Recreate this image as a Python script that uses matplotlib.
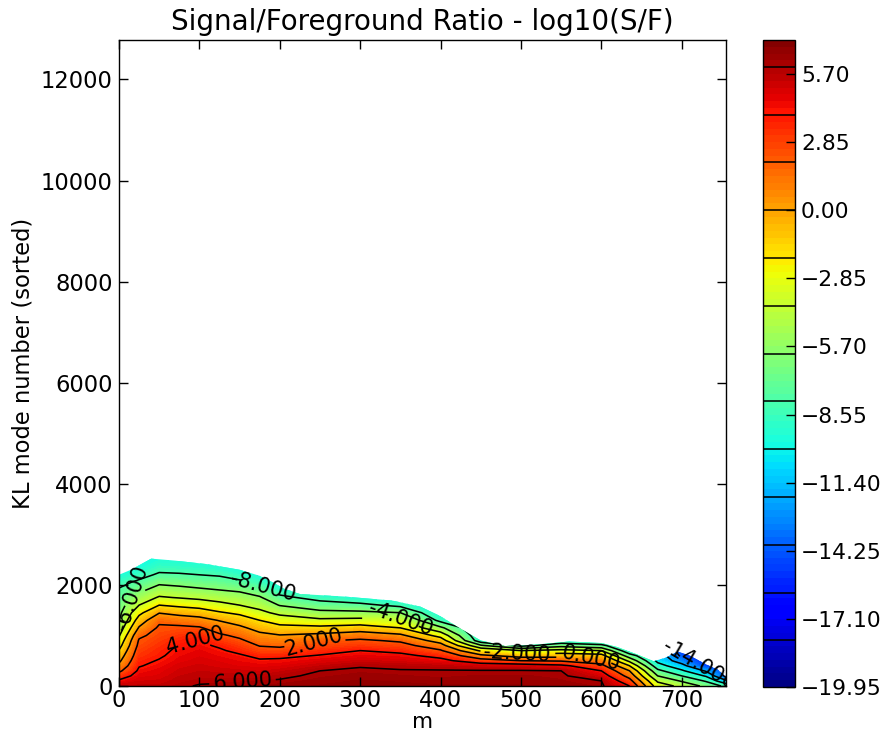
import numpy as np
import matplotlib
matplotlib.use('Agg')
import matplotlib.pyplot as plt
from matplotlib.patches import Polygon
from matplotlib.ticker import FuncFormatter

nan = float('nan')

# m values (columns) and KL mode numbers (rows) of the sampled grid
m_cols = [0, 25, 50, 75, 100, 125, 150, 175, 200, 250, 300, 350, 400, 450, 500, 550, 600,
          635, 670, 700, 730, 755]
kl_rows = [0, 100, 200, 300, 400, 500, 600, 700, 800, 900, 1000, 1150, 1300, 1450,
           1600, 1750, 1900, 2050, 2200, 2350, 2500, 2650]

# log10(S/F), one list per KL row
log_sf = [
    [5.5, 5.5, 5.5, 5.8, 6.1, 6.2, 6.3, 6.3, 6.4, 6.6, 6.8, 6.7, 6.6, 6.6, 6.6, 6.5, 6.2, 4.0, -3.0, -4.5, -6.5, -8.5],
    [4.3, 5.1, 5.2, 5.6, 5.8, 5.8, 5.9, 6.0, 6.1, 6.4, 6.6, 6.5, 6.4, 6.4, 6.4, 6.3, 6.0, 2.7, -4.3, -6.2, -8.2, -11.6],
    [3.0, 4.7, 4.9, 5.4, 5.6, 5.6, 5.5, 5.5, 5.8, 6.2, 6.4, 6.3, 6.2, 6.3, 6.3, 6.2, 5.0, 1.3, -6.0, -8.0, -10.2, -14.5],
    [1.6, 4.3, 4.7, 5.2, 5.4, 5.3, 5.2, 5.1, 5.3, 6.0, 6.2, 6.1, 6.1, 6.1, 6.1, 6.0, 4.0, 0.0, -7.5, -9.7, -12.2, -14.7],
    [0.5, 3.9, 4.4, 5.0, 5.2, 5.0, 4.8, 4.7, 4.8, 5.4, 5.9, 5.7, 5.5, 5.1, 5.0, 4.4, 2.6, -2.0, -9.2, -11.3, -14.8, -14.9],
    [-0.4, 3.6, 4.1, 4.7, 5.0, 4.8, 4.5, 4.2, 4.3, 4.8, 5.2, 5.0, 4.5, 2.9, 2.0, 1.8, 0.9, -4.5, -10.5, -13.0, -15.6, -15.1],
    [-1.1, 3.2, 3.8, 4.5, 4.8, 4.5, 4.2, 3.6, 3.6, 4.1, 4.6, 4.4, 3.5, 0.5, -0.9, -0.8, -1.2, -7.1, -10.7, -14.4, -15.8, nan],
    [-1.9, 2.9, 3.6, 4.3, 4.6, 4.2, 3.6, 2.7, 2.6, 3.4, 4.0, 3.6, 2.2, -2.3, -4.0, -3.4, -4.0, -9.6, -10.9, -15.1, -16.0, nan],
    [-2.7, 2.5, 3.3, 4.1, 4.3, 3.8, 3.0, 1.9, 1.7, 2.6, 3.1, 2.7, 0.8, -5.7, -8.6, -6.7, -7.6, -9.8, -11.1, -15.3, -16.2, nan],
    [-3.4, 2.2, 3.0, 3.7, 4.1, 3.1, 2.3, 1.2, 0.9, 1.8, 2.3, 1.7, -0.9, -9.3, -9.8, -9.6, -9.7, -10.0, nan, nan, nan, nan],
    [-4.2, 1.6, 2.7, 3.2, 3.6, 2.3, 1.6, 0.5, 0.1, 0.5, 1.1, 0.4, -2.7, -9.8, -10.0, -9.8, -9.9, -10.2, nan, nan, nan, nan],
    [-5.2, 0.2, 2.3, 2.4, 2.2, 1.1, 0.4, -0.7, -1.4, -1.5, -1.1, -2.0, -5.6, -10.1, nan, nan, nan, nan, nan, nan, nan, nan],
    [-6.1, -1.1, 1.6, 1.1, 0.7, -0.1, -0.9, -2.0, -2.9, -3.6, -3.4, -3.7, -8.6, -10.4, nan, nan, nan, nan, nan, nan, nan, nan],
    [-6.5, -2.5, -0.1, -0.6, -0.9, -1.8, -2.4, -3.5, -4.5, -5.5, -5.6, -6.0, -9.8, -10.7, nan, nan, nan, nan, nan, nan, nan, nan],
    [-6.9, -4.0, -2.0, -2.4, -2.8, -3.4, -4.0, -4.7, -6.1, -7.1, -7.5, -8.5, -10.1, nan, nan, nan, nan, nan, nan, nan, nan, nan],
    [-7.4, -5.2, -3.8, -4.1, -4.4, -4.8, -5.1, -5.8, -7.5, -8.7, -9.5, -9.8, -10.4, nan, nan, nan, nan, nan, nan, nan, nan, nan],
    [-7.8, -6.5, -5.1, -5.4, -5.7, -6.0, -6.3, -7.1, -9.0, -9.7, -9.9, -10.1, nan, nan, nan, nan, nan, nan, nan, nan, nan, nan],
    [-8.6, -7.6, -6.4, -6.6, -6.9, -7.1, -7.6, -8.5, -9.8, -10.0, nan, nan, nan, nan, nan, nan, nan, nan, nan, nan, nan, nan],
    [-9.6, -8.7, -7.7, -7.8, -8.0, -8.2, -8.8, -9.7, -10.1, nan, nan, nan, nan, nan, nan, nan, nan, nan, nan, nan, nan, nan],
    [-9.9, -9.6, -8.7, -8.8, -9.0, -9.3, -9.7, -10.0, -10.4, nan, nan, nan, nan, nan, nan, nan, nan, nan, nan, nan, nan, nan],
    [-10.2, -9.9, -9.5, -9.6, -9.7, -9.8, -10.0, nan, nan, nan, nan, nan, nan, nan, nan, nan, nan, nan, nan, nan, nan, nan],
    [-10.5, -10.2, -9.9, -9.9, -10.0, nan, nan, nan, nan, nan, nan, nan, nan, nan, nan, nan, nan, nan, nan, nan, nan, nan],
]

# upper edge of the region that holds data (white above)
edge_m = [0, 15, 40, 70, 110, 150, 175, 190, 205, 225, 280, 340, 375, 400, 420, 450, 480,
          520, 560, 600, 620, 645, 665, 680, 695, 710, 730, 745, 755]
edge_kl = [2200, 2300, 2520, 2480, 2410, 2300, 2180, 2060, 1930, 1820, 1770, 1690, 1570, 1380,
           1180, 900, 790, 820, 880, 850, 770, 620, 490, 560, 680, 600, 430, 320, 180]

line_levels = [-18, -16, -14, -12, -10, -8, -6, -4, -2, 0, 2, 4, 6]
label_spots = [(178, 1960), (5, 1750), (86, 930), (237, 880), (154, 80), (353, 1350),
               (496, 650), (587, 555), (735, 440)]
label_angles = [-15, 72, 15, 15, 4, -20, -3, -12, -30]
cbar_ticks = [-19.95, -17.10, -14.25, -11.40, -8.55, -5.70, -2.85, 0.00, 2.85, 5.70]
vmin, vmax = -19.95, 7.125

plt.rcParams['contour.negative_linestyle'] = 'solid'

fig = plt.figure(figsize=(887 / 125, 734 / 125), dpi=125)
ax = fig.add_axes([119 / 887, 1 - 686 / 734, (726 - 119) / 887, (686 - 40) / 734])
cax = fig.add_axes([763 / 887, 1 - 687 / 734, 32 / 887, (687 - 40) / 734])

Z = np.array(log_sf, dtype=float)
cf = ax.contourf(m_cols, kl_rows, Z, levels=np.linspace(vmin, vmax, 96), cmap='jet')
cl = ax.contour(m_cols, kl_rows, Z, levels=line_levels, colors='k', linewidths=0.9,
                linestyles='solid')

clip = Polygon(np.column_stack([np.r_[edge_m, edge_m[-1], 0], np.r_[edge_kl, 0, 0]]), closed=True)
clip.set_transform(ax.transData)
cf.set_clip_path(clip)
cl.set_clip_path(clip)

texts = ax.clabel(cl, fmt='%1.3f', fontsize=12, inline=True, manual=label_spots)
for t, a in zip(texts, label_angles):
    t.set_rotation(a)
    t.set_clip_on(True)
    t.set_clip_box(ax.bbox)

ax.set_xlim(0, 755)
ax.set_ylim(0, 12780)
ax.set_xticks(range(0, 701, 100))
ax.set_yticks(range(0, 12001, 2000))
ax.tick_params(direction='in', top=True, right=True, labelsize=13, length=5)
ax.tick_params(axis='x', pad=1.5)
ax.set_xlabel('m', fontsize=12.5, labelpad=0)
ax.set_ylabel('KL mode number (sorted)', fontsize=13)
ax.set_title('Signal/Foreground Ratio - log10(S/F)', fontsize=16)

cb = fig.colorbar(cf, cax=cax, ticks=cbar_ticks)
cb.add_lines(cl)
cb.ax.yaxis.set_major_formatter(FuncFormatter(lambda v, p: f'{v:.2f}'.replace('-', '\u2212')))
cb.ax.tick_params(direction='in', labelsize=12.5, length=5)

fig.savefig('out.png', dpi=125)
